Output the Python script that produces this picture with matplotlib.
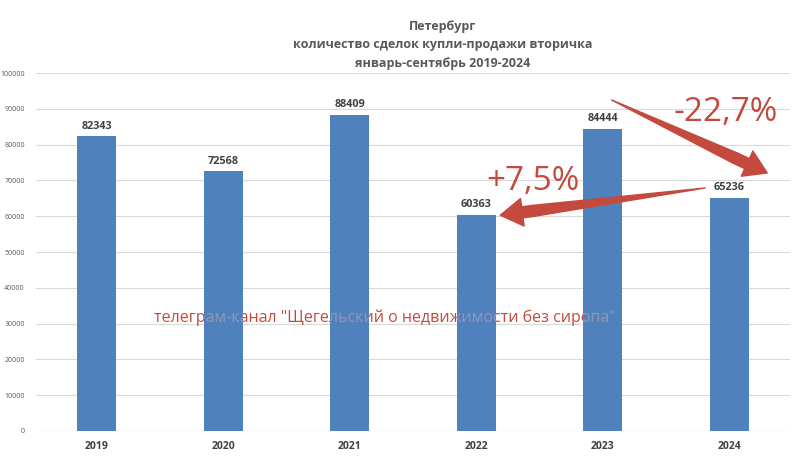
import matplotlib.pyplot as plt
from matplotlib.transforms import Bbox, TransformedBbox

years = ['2019', '2020', '2021', '2022', '2023', '2024']
deals = [82343, 72568, 88409, 60363, 84444, 65236]
title = 'Петербург\nколичество сделок купли-продажи вторичка\nянварь-сентябрь 2019-2024'
watermark = 'телеграм-канал "Щегельский о недвижимости без сиропа"'

bar_color = '#4F81BD'
red = '#C44A3E'
plt.rcParams['font.family'] = ['Open Sans', 'DejaVu Sans']

fig = plt.figure(figsize=(8, 4.57), dpi=100)
ax = fig.add_axes([0.045, 0.057, 0.9425, 0.783])

x = range(len(years))
bars = ax.bar(x, deals, width=0.31, color=bar_color, zorder=3)
for i, v in zip(x, deals):
    ax.text(i, v + 1300, str(v), ha='center', va='bottom', fontsize=7.8,
            fontweight='bold', color='#404040', zorder=4)

ax.set_xlim(-0.48, 5.48)
ax.set_ylim(0, 100000)
ax.set_yticks(range(0, 100001, 10000))
ax.tick_params(axis='y', labelsize=5, colors='#595959', length=0, pad=8)
ax.set_xticks(list(x))
ax.set_xticklabels(years, fontsize=7.5, fontweight='bold', color='#404040')
ax.tick_params(axis='x', length=0, pad=7)
ax.grid(axis='y', color='#D9D9D9', linewidth=0.8, zorder=0)
for s in ax.spines.values():
    s.set_visible(False)
ax.axhline(0, color='#D9D9D9', linewidth=0.8, zorder=1)

fig.text(0.553, 0.957, title, ha='center', va='top', fontsize=9,
         fontweight='bold', color='#595959', linespacing=1.55)

# watermark: solid behind the bars, faint where it crosses them
ax.text(2.28, 31500, watermark, ha='center', va='center', fontsize=11.5,
        color=red, zorder=2)
for b in bars:
    box = Bbox.from_bounds(b.get_x(), b.get_y(), b.get_width(), b.get_height())
    t = ax.text(2.28, 31500, watermark, ha='center', va='center', fontsize=11.5,
                color='#F0A8A8', alpha=0.45, zorder=3.5, clip_on=True)
    t.set_clip_path(None)
    t.set_clip_box(TransformedBbox(box, ax.transData))


def tapered_arrow(tail, mid, tip):
    # thin-to-thick shaft, then a broad head
    ax.annotate('', xy=tail, xytext=mid,
                arrowprops=dict(arrowstyle='wedge,tail_width=0.8,shrink_factor=0.5',
                                color=red, shrinkA=0, shrinkB=0), zorder=5)
    ax.annotate('', xy=tip, xytext=mid,
                arrowprops=dict(arrowstyle='simple,head_width=2.0,head_length=1.6,tail_width=0.8',
                                color=red, shrinkA=0, shrinkB=0), zorder=5)


tapered_arrow((4.07, 92500), (5.05, 76200), (5.30, 72100))
tapered_arrow((4.81, 67900), (3.45, 61500), (3.19, 60300))

ax.text(4.97, 89000, '-22,7%', ha='center', va='center', fontsize=24, color=red, zorder=5)
ax.text(3.45, 69600, '+7,5%', ha='center', va='center', fontsize=24, color=red, zorder=5)

fig.savefig('out.png', dpi=100)
